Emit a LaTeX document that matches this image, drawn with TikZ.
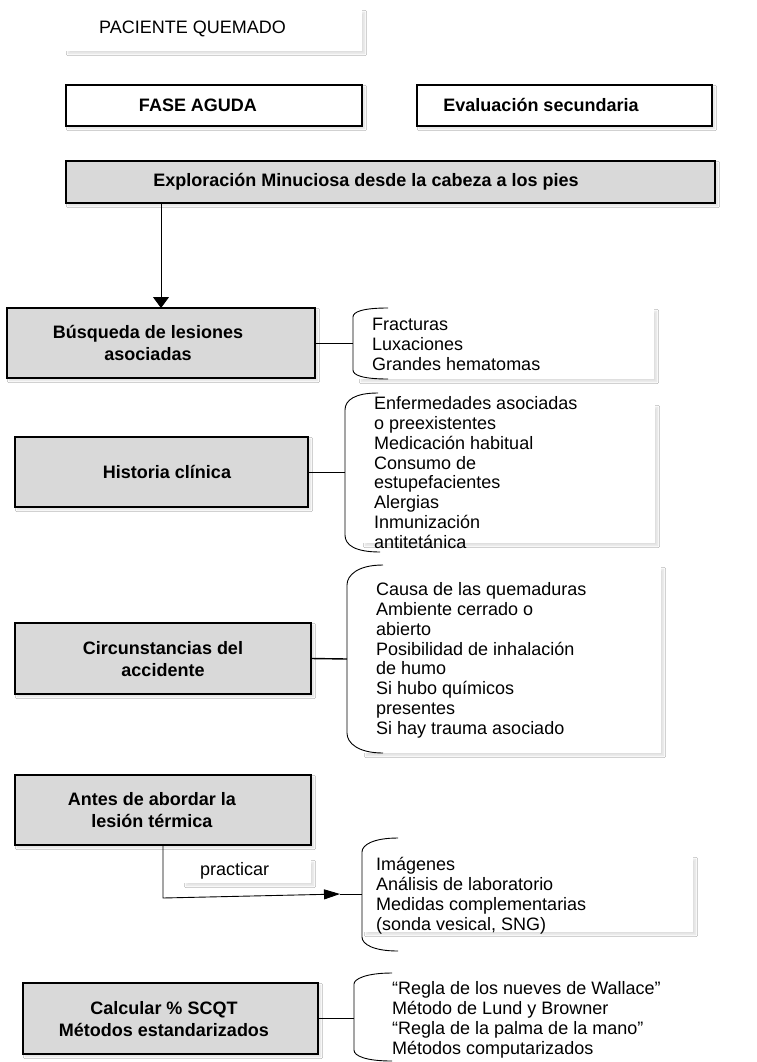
\documentclass[tikz,border=0pt]{standalone}
\usepackage{fontspec}
\setmainfont{Liberation Sans}
\usetikzlibrary{arrows.meta,shadows.blur}
\definecolor{boxgray}{HTML}{D9D9D9}
\begin{document}
\begin{tikzpicture}[x=1pt,y=-1pt,
  font=\fontsize{18}{19.8}\selectfont,
  softshadow/.style={blur shadow={shadow xshift=2.5pt,shadow yshift=-2.5pt,shadow blur radius=2.2pt,shadow blur steps=6,shadow opacity=14}},
  graybox/.style={draw=black,line width=1.2pt,fill=boxgray,softshadow,anchor=north west,inner sep=0pt,outer sep=0pt},
  whitebox/.style={draw=black,line width=1.2pt,fill=white,softshadow,anchor=north west,inner sep=0pt,outer sep=0pt},
  tbox/.style={fill=white,softshadow,anchor=north west,inner sep=0pt,outer sep=0pt},
  boldtxt/.style={font=\bfseries\fontsize{18}{22}\selectfont,align=center,inner sep=0pt},
  listtxt/.style={align=left,anchor=north west,inner sep=0pt},
  conn/.style={line width=0.9pt},
  brk/.style={line width=0.9pt}
]
\useasboundingbox (0,0) rectangle (757,1062);
\fill[white] (0,0) rectangle (757,1062);

% top boxes
\node[tbox,minimum width=296pt,minimum height=41pt] (pac) at (66,10) {};
\node[anchor=west,inner sep=0pt] (pact) at (99,29) {PACIENTE QUEMADO};

\node[whitebox,minimum width=296pt,minimum height=41pt] (fase) at (66,85) {};
\node[boldtxt] (faset) at (198,105) {FASE AGUDA};

\node[whitebox,minimum width=295pt,minimum height=41pt] (eval) at (417,85) {};
\node[boldtxt] (evalt) at (541,105) {Evaluación secundaria};

\node[graybox,minimum width=649pt,minimum height=42pt] (explo) at (66,161) {};
\node[boldtxt] (explot) at (366,182) {Exploración Minuciosa desde la cabeza a los pies};

% left column boxes
\node[graybox,minimum width=308pt,minimum height=70pt] (busq) at (7,308) {};
\node[boldtxt] (busqt) at (148,343) {Búsqueda de lesiones\\asociadas};

\node[graybox,minimum width=293pt,minimum height=70pt] (hist) at (15,437) {};
\node[boldtxt] (histt) at (167,472) {Historia clínica};

\node[graybox,minimum width=296pt,minimum height=71pt] (circ) at (15,623) {};
\node[boldtxt] (circt) at (163,659) {Circunstancias del\\accidente};

\node[graybox,minimum width=296pt,minimum height=70pt] (antes) at (15,775) {};
\node[boldtxt] (antest) at (152,810) {Antes de abordar la\\lesión térmica};

\node[graybox,minimum width=295pt,minimum height=71pt] (calc) at (23,983) {};
\node[boldtxt] (calct) at (164,1019) {Calcular \% SCQT\\Métodos estandarizados};

% right text boxes
\node[tbox,minimum width=295pt,minimum height=70pt] (tb1) at (359,309) {};
\node[tbox,minimum width=292pt,minimum height=138pt] (tb2) at (363,405) {};
\node[tbox,minimum width=297pt,minimum height=186pt] (tb3) at (364,567) {};
\node[tbox,minimum width=329pt,minimum height=75pt] (tb4) at (364,857) {};
\node[tbox,minimum width=127pt,minimum height=23pt] (prac) at (184,860) {};
\node[anchor=west,inner sep=0pt] (pract) at (200,871) {practicar};

% lists
\node[listtxt] (l1) at (372,316.6) {\strut Fracturas\\Luxaciones\\Grandes hematomas};
\node[listtxt] (l2) at (374,395.6) {\strut Enfermedades asociadas\\o preexistentes\\Medicación habitual\\Consumo de\\estupefacientes\\Alergias\\Inmunización\\antitetánica};
\node[listtxt] (l3) at (376,581.6) {\strut Causa de las quemaduras\\Ambiente cerrado o\\abierto\\Posibilidad de inhalación\\de humo\\Si hubo químicos\\presentes\\Si hay trauma asociado};
\node[listtxt] (l4) at (376,856.6) {\strut Imágenes\\Análisis de laboratorio\\Medidas complementarias\\(sonda vesical, SNG)};
\node[listtxt] (l5) at (392,980.6) {\strut “Regla de los nueves de Wallace”\\Método de Lund y Browner\\“Regla de la palma de la mano”\\Métodos computarizados};

% brackets
\draw[brk] (388,308) .. controls (362,308) and (353,312) .. (353,317) -- (353,370) .. controls (353,375) and (362,379) .. (388,379);
\draw[brk] (378,393) .. controls (355,393) and (345,400) .. (345,410) -- (345,535) .. controls (345,545) and (355,552) .. (380,552);
\draw[brk] (383,565) .. controls (358,565) and (347,575) .. (347,585) -- (347,733) .. controls (347,743) and (358,753) .. (383,753);
\draw[brk] (398,838) .. controls (373,838) and (362,845) .. (362,852) -- (362,937) .. controls (362,944) and (373,951) .. (398,951);
\draw[brk] (392,973) .. controls (366,973) and (354,979) .. (354,984) -- (354,1050) .. controls (354,1056) and (366,1061) .. (392,1061);

\coordinate (b1) at (353,343);
\coordinate (b2) at (345,472);
\coordinate (b3) at (347,659);
\coordinate (b4) at (362,894);
\coordinate (b5) at (354,1018.5);
\coordinate (c4) at (163,898);
\coordinate (tip4) at (340,894);

% connectors
\draw[conn,-{Triangle[length=11pt,width=16pt]}] (busq.north |- explo.south) -- (busq.north);
\draw[conn] (busq.east) -- (b1);
\draw[conn] (hist.east) -- (b2);
\draw[conn,line width=1.4pt] (circ.east) -- (b3);
\draw[conn,-{Triangle[length=16pt,width=10pt]}] (antes.south) -- (c4) -- (tip4);
\draw[conn] (tip4) -- (b4);
\draw[conn] (calc.east) -- (b5);
\end{tikzpicture}
\end{document}
